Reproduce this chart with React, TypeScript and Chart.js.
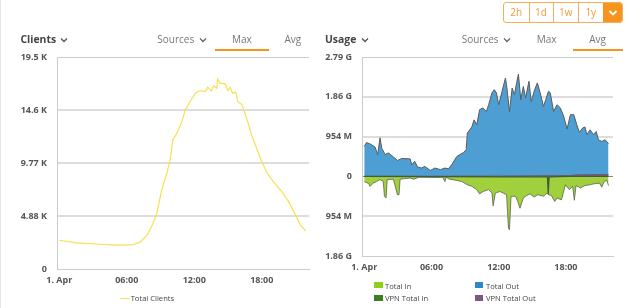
import React, { useEffect, useRef } from 'react';
import { Chart, registerables } from 'chart.js';

Chart.register(...registerables);

// ---------- data ----------
const timeTickHours = [0, 6, 12, 18];
const timeTickLabels = ['1. Apr', '06:00', '12:00', '18:00'];

const clientTickValues = [0, 4880, 9760, 14640, 19520];
const clientTickLabels = ['0', '4.88 K', '9.77 K', '14.6 K', '19.5 K'];

const clientHours = [0, 1.54, 3.6, 5.1, 6.6, 7.2, 7.8, 8.2, 8.67, 9.1, 9.56, 9.86, 10.1, 10.45, 10.9, 11.2, 11.64, 12.1, 12.5, 13.0, 13.2, 13.5, 13.7, 14.0, 14.07, 14.3, 14.76, 15.0, 15.2, 15.4, 15.7, 15.86, 16.25, 16.7, 17.1, 17.6, 18.0, 18.5, 19.06, 19.8, 20.4, 21.0, 21.44, 21.9];
const clientValues = [2650, 2400, 2280, 2190, 2250, 2490, 3110, 3880, 5110, 7260, 8800, 10030, 11880, 12500, 13570, 14650, 15420, 16190, 16430, 16340, 16740, 16400, 16860, 16650, 17480, 17110, 17050, 16430, 16740, 16190, 16280, 15420, 15110, 13730, 12340, 10960, 9880, 8800, 8030, 7110, 6180, 4960, 4030, 3510];

const usageTickValues = [-2e9, -1e9, 0, 1e9, 2e9, 3e9];
const usageTickLabels = ['1.86 G', '954 M', '0', '954 M', '1.86 G', '2.79 G'];

// Total Out (bytes, in units of 1e9)
const outHours = [0, 0.2, 0.5, 0.96, 1.2, 1.41, 1.56, 1.86, 2.15, 2.6, 2.96, 3.35, 4.1, 4.24, 4.5, 4.75, 5.1, 5.4, 5.9, 6.3, 6.8, 7.2, 7.5, 7.8, 8.26, 8.55, 8.85, 9.1, 9.2, 9.6, 9.8, 10.04, 10.3, 10.6, 10.9, 11.1, 11.4, 11.6, 11.8, 12.0, 12.3, 12.6, 12.7, 12.96, 13.2, 13.4, 13.6, 13.76, 13.97, 14.2, 14.4, 14.7, 14.9, 15.16, 15.45, 15.7, 16, 16.2, 16.44, 16.6, 16.9, 17.2, 17.5, 17.8, 18.1, 18.4, 18.7, 18.97, 19.2, 19.5, 19.7, 19.87, 20.16, 20.45, 20.7, 20.9, 21.2, 21.5, 21.8];
const outValues = [0.75, 0.85, 0.82, 0.74, 0.55, 0.97, 0.71, 0.55, 0.59, 0.49, 0.40, 0.45, 0.44, 0.29, 0.38, 0.24, 0.21, 0.25, 0.15, 0.21, 0.17, 0.21, 0.19, 0.29, 0.50, 0.55, 0.60, 0.67, 1.09, 1.24, 1.42, 1.30, 1.68, 1.72, 1.63, 1.80, 2.10, 2.18, 2.10, 1.80, 2.14, 2.47, 2.30, 1.63, 2.22, 2.05, 2.35, 2.57, 1.93, 2.26, 1.97, 2.39, 1.88, 2.14, 2.35, 2.10, 1.76, 1.93, 2.14, 2.10, 1.63, 1.80, 1.72, 1.51, 1.19, 1.55, 1.55, 1.30, 1.11, 1.22, 1.24, 1.05, 1.17, 1.05, 1.13, 0.92, 0.88, 0.92, 0.82];

// Total In (negative side)
const inHours = [0, 0.4, 0.5, 0.8, 1.1, 1.4, 1.7, 1.8, 1.95, 2.05, 2.6, 2.96, 3.1, 3.2, 4.1, 4.4, 4.9, 6.4, 7.0, 7.2, 7.3, 7.6, 8.26, 8.7, 9.2, 9.6, 10.04, 10.3, 10.6, 11.1, 11.4, 11.5, 11.7, 12.1, 12.4, 12.7, 12.87, 12.96, 13.1, 13.5, 13.7, 13.9, 14.2, 14.5, 14.8, 15.16, 15.5, 16, 16.3, 16.44, 16.7, 17.0, 17.2, 17.6, 17.95, 18.3, 18.6, 18.75, 18.9, 19.3, 19.7, 20.16, 20.6, 21.0, 21.2, 21.4, 21.65, 21.8];
const inValues = [-0.13, -0.18, -0.25, -0.17, -0.13, -0.08, -0.13, -0.50, -0.54, -0.08, -0.07, -0.46, -0.46, -0.07, -0.04, -0.07, -0.02, -0.025, -0.02, -0.13, -0.02, -0.07, -0.10, -0.13, -0.21, -0.25, -0.33, -0.44, -0.38, -0.33, -0.42, -0.74, -0.42, -0.38, -0.42, -0.46, -1.30, -1.34, -0.50, -0.50, -0.63, -0.80, -0.54, -0.48, -0.44, -0.52, -0.46, -0.50, -0.42, -0.46, -0.48, -0.63, -0.54, -0.59, -0.21, -0.33, -0.25, -0.60, -0.23, -0.29, -0.23, -0.21, -0.18, -0.17, -0.27, -0.13, -0.10, -0.23];

const vpnInHours = [0, 12.5, 16.35, 16.42, 16.5, 18.3, 21.8];
const vpnInValues = [0, -0.01, -0.01, -0.45, -0.01, 0, 0];

const vpnOutHours = [0, 12, 18.3, 19, 21.8];
const vpnOutValues = [0, 0.01, 0.02, 0.04, 0.05];

// ---------- helpers ----------
const FONT = '"Open Sans", "DejaVu Sans", sans-serif';
const X_MIN = -0.2;
const X_MAX = 22.2;

const pts = (hs: number[], vs: number[], k = 1) => hs.map((h, i) => ({ x: h, y: vs[i] * k }));

const xScale = (height: number) => ({
  type: 'linear',
  min: X_MIN,
  max: X_MAX,
  afterBuildTicks: (s: any) => {
    s.ticks = timeTickHours.map((v) => ({ value: v }));
  },
  afterFit: (s: any) => {
    s.height = height;
  },
  ticks: {
    padding: 6,
    color: '#555',
    font: { family: FONT, size: 9, weight: 'bold' },
    maxRotation: 0,
    autoSkip: false,
    callback: (_v: any, i: number) => timeTickLabels[i],
  },
  grid: { display: false, drawTicks: false },
  border: { display: true, color: '#cccccc', width: 1 },
});

const ClientsChart = () => {
  const ref = useRef<HTMLCanvasElement>(null);
  useEffect(() => {
    const chart = new Chart(ref.current!, {
      type: 'line',
      data: {
        datasets: [
          {
            label: 'Total Clients',
            data: pts(clientHours, clientValues),
            borderColor: '#f8e04e',
            borderWidth: 1.2,
            pointRadius: 0,
            tension: 0,
            fill: false,
          },
        ],
      },
      options: {
        animation: false,
        responsive: false,
        events: [],
        layout: { padding: { top: 57, right: 5, left: 0, bottom: 0 } },
        plugins: { legend: { display: false }, tooltip: { enabled: false } },
        scales: {
          x: xScale(39) as any,
          y: {
            min: 0,
            max: 19520,
            afterBuildTicks: (s: any) => {
              s.ticks = clientTickValues.map((v) => ({ value: v }));
            },
            afterFit: (s: any) => {
              s.width = 57;
            },
            ticks: {
              padding: 10,
              color: '#555',
              font: { family: FONT, size: 9, weight: 'bold' },
              callback: (_v: any, i: number) => clientTickLabels[i],
            },
            grid: {
              drawTicks: false,
              color: (c: any) => (c.index === 0 || c.index === clientTickValues.length - 1 ? '#cccccc' : '#dddddd'),
              lineWidth: (c: any) => (c.index === 0 || c.index === clientTickValues.length - 1 ? 1 : 2),
            },
            border: { display: true, color: '#cccccc', width: 1 },
          },
        },
      },
    });
    return () => chart.destroy();
  }, []);
  return <canvas ref={ref} width={314} height={308} style={{ position: 'absolute', left: 0, top: 0, width: 314, height: 308 }} />;
};

const UsageChart = () => {
  const ref = useRef<HTMLCanvasElement>(null);
  useEffect(() => {
    const edge = '#5a5a5a';
    const chart = new Chart(ref.current!, {
      type: 'line',
      data: {
        datasets: [
          {
            label: 'Total In',
            data: pts(inHours, inValues, 1e9),
            borderColor: 'rgba(90,100,80,0.8)',
            backgroundColor: '#a0d03c',
            borderWidth: 1,
            pointRadius: 0,
            tension: 0,
            fill: 'origin',
            order: 2,
          },
          {
            label: 'Total Out',
            data: pts(outHours, outValues, 1e9),
            borderColor: edge,
            backgroundColor: '#4d9fd3',
            borderWidth: 1,
            pointRadius: 0,
            tension: 0,
            fill: 'origin',
            order: 2,
          },
          {
            label: 'VPN Total In',
            data: pts(vpnInHours, vpnInValues, 1e9),
            borderColor: '#3f5d36',
            backgroundColor: '#3b7a22',
            borderWidth: 1.2,
            pointRadius: 0,
            tension: 0,
            fill: 'origin',
            order: 1,
          },
          {
            label: 'VPN Total Out',
            data: pts(vpnOutHours, vpnOutValues, 1e9),
            borderColor: '#6f5a78',
            backgroundColor: '#7b5a86',
            borderWidth: 1,
            pointRadius: 0,
            tension: 0,
            fill: 'origin',
            order: 1,
          },
        ],
      },
      options: {
        animation: false,
        responsive: false,
        events: [],
        layout: { padding: { top: 57, right: 15, left: 0, bottom: 0 } },
        plugins: { legend: { display: false }, tooltip: { enabled: false } },
        scales: {
          x: xScale(52) as any,
          y: {
            min: -2e9,
            max: 3e9,
            afterBuildTicks: (s: any) => {
              s.ticks = usageTickValues.map((v) => ({ value: v }));
            },
            afterFit: (s: any) => {
              s.width = 48;
            },
            ticks: {
              padding: 10,
              color: '#555',
              font: { family: FONT, size: 9, weight: 'bold' },
              callback: (_v: any, i: number) => usageTickLabels[i],
            },
            grid: {
              drawTicks: false,
              color: (c: any) =>
                c.tick && c.tick.value === 0 ? '#8a8a8a' : c.index === 0 || c.index === usageTickValues.length - 1 ? '#cccccc' : '#dddddd',
              lineWidth: (c: any) =>
                c.tick && c.tick.value === 0 ? 1 : c.index === 0 || c.index === usageTickValues.length - 1 ? 1 : 2,
            },
            border: { display: true, color: '#cccccc', width: 1 },
          },
        },
      },
    });
    return () => chart.destroy();
  }, []);
  return <canvas ref={ref} width={314} height={308} style={{ position: 'absolute', left: 314, top: 0, width: 314, height: 308 }} />;
};

const Chevron = ({ left, top, color }: { left: number; top: number; color: string }) => (
  <svg width={8} height={6} style={{ position: 'absolute', left, top }}>
    <polyline points="1,1.5 4,4.5 7,1.5" fill="none" stroke={color} strokeWidth={1.3} />
  </svg>
);

const txt = (left: number, top: number, size: number, color: string, weight: number | string = 400): React.CSSProperties => ({
  position: 'absolute',
  left,
  top,
  fontFamily: FONT,
  fontSize: size,
  lineHeight: '12px',
  color,
  fontWeight: weight as any,
  whiteSpace: 'nowrap',
});

const orange = '#f7941e';

export default function App() {
  const buttons = ['2h', '1d', '1w', '1y'];
  const btnW = [24.5, 24, 25.5, 24.5];
  return (
    <div style={{ position: 'absolute', left: 0, top: 0, width: 628, height: 308, background: '#fff', overflow: 'hidden' }}>
      <div style={{ position: 'absolute', left: 0, top: 0, width: 1, height: 308, background: '#e6e6e6' }} />
      <ClientsChart />
      <UsageChart />

      {/* left header */}
      <div style={txt(20.5, 33.2, 10.4, '#444', 700)}>Clients</div>
      <Chevron left={60} top={36.5} color="#555" />
      <div style={txt(157.3, 33.2, 10, '#777')}>Sources</div>
      <Chevron left={198.5} top={36.5} color="#666" />
      <div style={txt(232, 33.2, 10, '#777')}>Max</div>
      <div style={txt(284.5, 33.2, 10, '#777')}>Avg</div>
      <div style={{ position: 'absolute', left: 215, top: 49, width: 54, height: 2, background: orange }} />

      {/* right header */}
      <div style={txt(325, 33.2, 10.4, '#444', 700)}>Usage</div>
      <Chevron left={361} top={36.5} color="#555" />
      <div style={txt(461.7, 33.2, 10, '#777')}>Sources</div>
      <Chevron left={503} top={36.5} color="#666" />
      <div style={txt(536.7, 33.2, 10, '#777')}>Max</div>
      <div style={txt(589.3, 33.2, 10, '#777')}>Avg</div>
      <div style={{ position: 'absolute', left: 573, top: 49, width: 50, height: 2, background: orange }} />

      {/* button group */}
      <div
        style={{
          position: 'absolute',
          left: 503,
          top: 1.5,
          width: 120,
          height: 21,
          boxSizing: 'border-box',
          border: '1px solid #f8ad5c',
          borderRadius: 3,
          display: 'flex',
          overflow: 'hidden',
        }}
      >
        {buttons.map((b, i) => (
          <div
            key={b}
            style={{
              width: btnW[i],
              height: '100%',
              boxSizing: 'border-box',
              borderLeft: i === 0 ? 'none' : '1px solid #f8ad5c',
              color: '#f39a3c',
              fontFamily: FONT,
              fontSize: 10,
              lineHeight: '19px',
              textAlign: 'center',
            }}
          >
            {b}
          </div>
        ))}
        <div style={{ flex: 1, height: '100%', background: orange, position: 'relative' }}>
          <svg width={10} height={8} style={{ position: 'absolute', left: 5.5, top: 6 }}>
            <polyline points="1.5,2 5,5.5 8.5,2" fill="none" stroke="#fff" strokeWidth={1.8} />
          </svg>
        </div>
      </div>

      {/* left legend */}
      <div style={{ position: 'absolute', left: 120, top: 297.5, width: 10, height: 1.2, background: '#f8e04e' }} />
      <div style={txt(130.7, 292.3, 7.6, '#444')}>Total Clients</div>

      {/* right legend */}
      <div style={{ position: 'absolute', left: 374.3, top: 282.3, width: 8.4, height: 6, background: '#8fcf1a' }} />
      <div style={txt(385, 279.5, 7.6, '#444')}>Total In</div>
      <div style={{ position: 'absolute', left: 475, top: 282.3, width: 8.4, height: 6, background: '#2c88cc' }} />
      <div style={txt(486, 279.5, 7.6, '#444')}>Total Out</div>
      <div style={{ position: 'absolute', left: 374.3, top: 295.3, width: 8.4, height: 6, background: '#3a7d22' }} />
      <div style={txt(385, 292.3, 7.6, '#444')}>VPN Total In</div>
      <div style={{ position: 'absolute', left: 475, top: 295.3, width: 8.4, height: 6, background: '#7a5886' }} />
      <div style={txt(486, 292.3, 7.6, '#444')}>VPN Total Out</div>
    </div>
  );
}
